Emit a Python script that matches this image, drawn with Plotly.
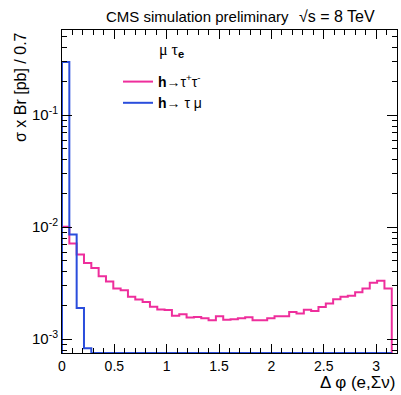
import numpy as np
import plotly.graph_objects as go

# Histogram binning (Δφ in radians)
bin_width = 0.07
n_bins = 45

# h -> tau tau (pink), sigma x Br per bin [pb]
htt = [0.0101, 0.00715, 0.00571, 0.00480, 0.00432, 0.00365, 0.00328, 0.00284, 0.00274,
       0.00239, 0.00226, 0.00215, 0.00195, 0.00184, 0.00182, 0.00162, 0.00167, 0.00156,
       0.00158, 0.00154, 0.00148, 0.00160, 0.00149, 0.00151, 0.00154, 0.00157, 0.00148,
       0.00148, 0.00154, 0.00160, 0.00160, 0.00175, 0.00170, 0.00183, 0.00179, 0.00194,
       0.00208, 0.00228, 0.00239, 0.00244, 0.00263, 0.00284, 0.00319, 0.00332, 0.00284]

# h -> tau mu (blue)
htm = [0.299, 0.0086, 0.0019, 0.00083, 0, 0, 0, 0, 0, 0, 0, 0, 0, 0, 0, 0, 0, 0, 0, 0,
       0, 0, 0, 0, 0, 0, 0, 0, 0, 0, 0, 0, 0, 0, 0, 0, 0, 0, 0, 0, 0, 0, 0, 0, 0]

x_ticks = [0, 0.5, 1, 1.5, 2, 2.5, 3]
y_tickvals = [1e-3, 1e-2, 1e-1]
y_ticktext = ["10<sup>-3</sup>", "10<sup>-2</sup>", "10<sup>-1</sup>"]

ylog_range = [-3.123, -0.239]
floor = 10 ** ylog_range[0]

edges = np.arange(n_bins + 1) * bin_width


def step_xy(vals):
    v = np.array(vals, dtype=float)
    v = np.where(v > 0, v, floor)
    xs = np.concatenate([[edges[0]], edges])
    ys = np.concatenate([[floor], v, [floor]])
    return xs, ys


PINK = "#ee2e9c"
BLUE = "#2a4ddc"

fig = go.Figure()
xs, ys = step_xy(htt)
fig.add_trace(go.Scatter(x=xs, y=ys, mode="lines", line=dict(shape="hv", color=PINK, width=2),
                         name="<b>h</b>→τ<sup>+</sup>τ<sup>-</sup>"))
xs, ys = step_xy(htm)
fig.add_trace(go.Scatter(x=xs, y=ys, mode="lines", line=dict(shape="hv", color=BLUE, width=2),
                         name="<b>h</b>→ τ μ"))

minor_y = [m * 10.0 ** e for e in range(-4, 1) for m in range(2, 10)]

L, R, T, B = 62, 4, 30, 42
W, H = 401, 395
pw, ph = W - L - R, H - T - B


def px_x(p):
    return (p - L) / pw


def px_y(p):
    return (H - B - p) / ph


fig.update_layout(
    width=W, height=H,
    margin=dict(l=L, r=R, t=T, b=B),
    paper_bgcolor="white", plot_bgcolor="white",
    font=dict(family="Liberation Sans, Arial, sans-serif", color="black", size=14),
    showlegend=True,
    legend=dict(
        x=px_x(118), y=px_y(66), xanchor="left", yanchor="top",
        bgcolor="rgba(0,0,0,0)", font=dict(size=14), tracegroupgap=0,
    ),
    xaxis=dict(
        range=[0, 3.2], tickvals=x_ticks, ticktext=[str(v) for v in x_ticks],
        ticks="inside", ticklen=9, tickcolor="black", showline=True, linecolor="black",
        mirror="allticks", showgrid=False, zeroline=False, tickfont=dict(size=14),
        minor=dict(ticks="inside", ticklen=5, dtick=0.1, tickcolor="black", showgrid=False),
    ),
    yaxis=dict(
        type="log", range=ylog_range, tickvals=y_tickvals, ticktext=y_ticktext,
        ticks="inside", ticklen=10, tickcolor="black", showline=True, linecolor="black",
        mirror="allticks", showgrid=False, zeroline=False, tickfont=dict(size=15),
        minor=dict(ticks="inside", ticklen=5, tickvals=minor_y, tickcolor="black", showgrid=False),
    ),
    annotations=[
        dict(text="CMS simulation preliminary", x=px_x(104), y=1, xref="paper", yref="paper",
             xanchor="left", yanchor="bottom", yshift=3, showarrow=False, font=dict(size=15)),
        dict(text="√s = 8 TeV", x=px_x(297), y=1, xref="paper", yref="paper",
             xanchor="left", yanchor="bottom", yshift=3, showarrow=False, font=dict(size=16)),
        dict(text="<span style='font-family:Liberation Serif'>μ τ</span><sub><b>e</b></sub>",
             x=px_x(157), y=px_y(50), xref="paper", yref="paper",
             xanchor="left", yanchor="middle", showarrow=False, font=dict(size=16)),
        dict(text="σ x Br [pb] / 0.7", x=px_x(20), y=1, xref="paper", yref="paper",
             xanchor="center", yanchor="top", textangle=-90, showarrow=False, font=dict(size=16)),
        dict(text="Δ φ (e,Σν)", x=1, y=0, xref="paper", yref="paper", xanchor="right",
             yanchor="top", yshift=-18, showarrow=False, font=dict(size=17)),
    ],
)

fig.write_html("out.html", config={"displayModeBar": False},
               post_script="document.body.style.margin='0';document.body.style.overflow='hidden';")
